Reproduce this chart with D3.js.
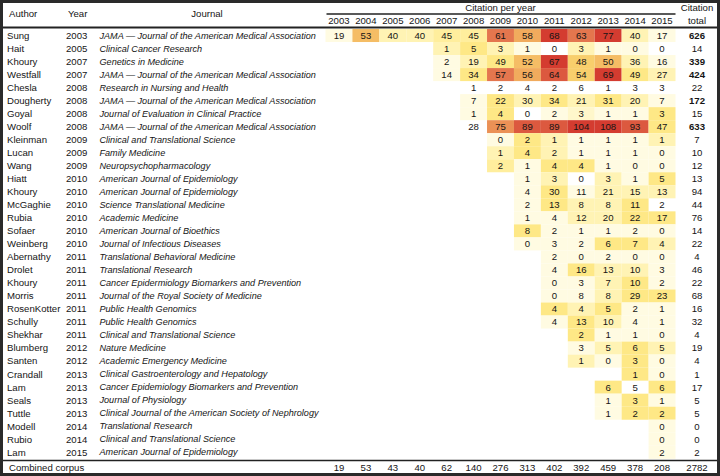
<!DOCTYPE html>
<html><head><meta charset="utf-8">
<script src="https://cdn.jsdelivr.net/npm/d3@7"></script>
<style>
body{margin:0;background:#fff;}
svg{display:block;font-family:"Liberation Sans",Arial,Helvetica,sans-serif;}
</style></head><body>
<svg id="chart" width="720" height="476"></svg>
<script>
const yearLabels = [2003,2004,2005,2006,2007,2008,2009,2010,2011,2012,2013,2014,2015];
const authors = ["Sung","Hait","Khoury","Westfall","Chesla","Dougherty","Goyal","Woolf","Kleinman","Lucan","Wang","Hiatt","Khoury","McGaghie","Rubia","Sofaer","Weinberg","Abernathy","Drolet","Khoury","Morris","RosenKotter","Schully","Shekhar","Blumberg","Santen","Crandall","Lam","Seals","Tuttle","Modell","Rubio","Lam"];
const pubYears = [2003,2005,2007,2007,2008,2008,2008,2008,2009,2009,2009,2010,2010,2010,2010,2010,2010,2011,2011,2011,2011,2011,2011,2011,2012,2012,2013,2013,2013,2013,2014,2014,2015];
const journals = ["JAMA — Journal of the American Medical Association","Clinical Cancer Research","Genetics in Medicine","JAMA — Journal of the American Medical Association","Research in Nursing and Health","JAMA — Journal of the American Medical Association","Journal of Evaluation in Clinical Practice","JAMA — Journal of the American Medical Association","Clinical and Translational Science","Family Medicine","Neuropsychopharmacology","American Journal of Epidemiology","American Journal of Epidemiology","Science Translational Medicine","Academic Medicine","American Journal of Bioethics","Journal of Infectious Diseases","Translational Behavioral Medicine","Translational Research","Cancer Epidermiology Biomarkers and Prevention","Journal of the Royal Society of Medicine","Public Health Genomics","Public Health Genomics","Clinical and Translational Science","Nature Medicine","Academic Emergency Medicine","Clinical Gastroenterology and Hepatology","Cancer Epidemiology Biomarkers and Prevention","Journal of Physiology","Clinical Journal of the American Society of Nephrology","Translational Research","Clinical and Translational Science","American Journal of Epidemiology"];
// first year with a citation count shown
const startYears = [2003,2007,2007,2007,2008,2008,2008,2008,2009,2009,2009,2010,2010,2010,2010,2010,2010,2011,2011,2011,2011,2011,2011,2012,2012,2012,2014,2013,2013,2013,2015,2015,2015];
const citations = [
 [19,53,40,40,45,45,61,58,68,63,77,40,17],
 [1,5,3,1,0,3,1,0,0],
 [2,19,49,52,67,48,50,36,16],
 [14,34,57,56,64,54,69,49,27],
 [1,2,4,2,6,1,3,3],
 [7,22,30,34,21,31,20,7],
 [1,4,0,2,3,1,1,3],
 [28,75,89,89,104,108,93,47],
 [0,2,1,1,1,1,1],
 [1,4,2,1,1,1,0],
 [2,1,4,4,1,0,0],
 [1,3,0,3,1,5],
 [4,30,11,21,15,13],
 [2,13,8,8,11,2],
 [1,4,12,20,22,17],
 [8,2,1,1,2,0],
 [0,3,2,6,7,4],
 [2,0,2,0,0],
 [4,16,13,10,3],
 [0,3,7,10,2],
 [0,8,8,29,23],
 [4,4,5,2,1],
 [4,13,10,4,1],
 [2,1,1,0],
 [3,5,6,5],
 [1,0,3,0],
 [1,0],
 [6,5,6],
 [1,3,1],
 [1,2,2],
 [0],[0],[2]
];
// cell shading level (0 = no fill, 7 = deep red)
const heat = [
 [1,4.5,2,2,2.5,2.5,6,5,7,6,7,2,0.5],
 [2,3,2,1,0,2,1,1,0],
 [1,2,3,4.5,7,4,4.5,2,1],
 [1,3,6,5,6.5,4,7,3,2],
 [0,0,0,0,0,0,0,0],
 [1,3,2,3,2,3,2,1],
 [1,3,0,1,1.5,1,1,3],
 [0,5.5,6.5,6.5,7,7,6.5,3],
 [1,3,2,1,1,1,2],
 [2,3,2,1,1,1,1],
 [2.5,1,3,3,1,1,1],
 [1,2,0,2,1,3],
 [1,3,1,2,2,2],
 [1,3,2,2,3,0],
 [1,1,2,2,3,3],
 [3,1,1,1,1,1],
 [1,1,1,3,3,2],
 [1,1,1,1,1],
 [1,3,2,2,1],
 [1,1,2,3,1],
 [1,1,2,3,3],
 [3,2,3,1,1],
 [1,3,2,1,1],
 [3,1,1,1],
 [1,2,3,2],
 [2,1,3,1],
 [3,1],
 [3,0,3],
 [1,3,1],
 [1,3,3],
 [1],[1],[1]
];
const totals = [626,14,339,424,22,172,15,633,7,10,12,13,94,44,76,14,22,4,46,22,68,16,32,4,19,4,1,17,5,5,0,0,2];
const boldTotals = [626,339,424,172,633];
const corpusTotals = [19,53,43,40,62,140,276,313,402,392,459,378,208];
const corpusTotal = 2782;

const svg = d3.select("#chart");
const fs = 9.6;
const fsJ = 9.1;
const x = d3.scaleBand().domain(yearLabels).range([325.5, 675.5]);
const y = d3.scaleBand().domain(d3.range(authors.length)).range([29, 458.8]);
const color = d3.scaleLinear()
  .domain([1,2,3,4,5,6,7])
  .range(["#fffbe2","#fff3b4","#fee886","#f8cf6c","#f1ab5d","#e4764e","#d43c30"])
  .clamp(true);
const txt = "#151515";

// header
const head = svg.append("g").attr("font-size", fs).attr("fill", txt);
head.append("text").attr("x", 9).attr("y", 14).attr("dy","0.35em").text("Author");
head.append("text").attr("x", 68).attr("y", 14).attr("dy","0.35em").text("Year");
head.append("text").attr("x", 207).attr("y", 14).attr("dy","0.35em").attr("text-anchor","middle").text("Journal");
head.append("text").attr("x", (x.range()[0]+x.range()[1])/2).attr("y", 7.5).attr("dy","0.35em").attr("text-anchor","middle").text("Citation per year");
head.append("text").attr("x", 697).attr("y", 7.5).attr("dy","0.35em").attr("text-anchor","middle").text("Citation");
head.append("text").attr("x", 697).attr("y", 20.5).attr("dy","0.35em").attr("text-anchor","middle").text("total");
svg.append("line").attr("x1", x.range()[0]+1).attr("x2", x.range()[1]).attr("y1", 14).attr("y2", 14).attr("stroke","#222").attr("stroke-width",1.3);
head.selectAll("text.yl").data(yearLabels).join("text").attr("class","yl")
  .attr("x", d => x(d) + x.bandwidth()/2).attr("y", 21).attr("dy","0.35em").attr("text-anchor","middle").text(d => d);

// cells
const rows = svg.append("g");
authors.forEach((a, i) => {
  const cells = citations[i].map((v, k) => ({year: startYears[i] + k, v, h: heat[i][k]}));
  const g = rows.append("g");
  g.selectAll("rect").data(cells.filter(c => c.h > 0)).join("rect")
    .attr("x", c => x(c.year)).attr("width", x.bandwidth())
    .attr("y", y(i)).attr("height", y.bandwidth())
    .attr("fill", c => color(c.h));
  g.selectAll("text").data(cells).join("text")
    .attr("x", c => x(c.year) + x.bandwidth()/2).attr("y", y(i) + y.bandwidth()/2)
    .attr("dy","0.35em").attr("text-anchor","middle").attr("font-size", fs).attr("fill", txt)
    .text(c => c.v);
  const cy = y(i) + y.bandwidth()/2;
  g.append("text").attr("x", 7).attr("y", cy).attr("dy","0.35em").attr("font-size", fs).attr("fill", txt).text(a);
  g.append("text").attr("x", 66).attr("y", cy).attr("dy","0.35em").attr("font-size", fs).attr("fill", txt).text(pubYears[i]);
  g.append("text").attr("x", 99.5).attr("y", cy).attr("dy","0.35em").attr("font-size", fsJ).attr("font-style","italic").attr("fill", txt).text(journals[i]);
  g.append("text").attr("x", 697).attr("y", cy).attr("dy","0.35em").attr("text-anchor","middle").attr("font-size", fs)
    .attr("font-weight", boldTotals.includes(totals[i]) ? "bold" : "normal").attr("fill", txt).text(totals[i]);
});

// combined corpus
const cY = 468;
svg.append("text").attr("x", 9).attr("y", cY).attr("dy","0.35em").attr("font-size", fs).attr("fill", txt).text("Combined corpus");
svg.selectAll("text.ct").data(corpusTotals).join("text").attr("class","ct")
  .attr("x", (d,k) => x(yearLabels[k]) + x.bandwidth()/2).attr("y", cY).attr("dy","0.35em")
  .attr("text-anchor","middle").attr("font-size", fs).attr("fill", txt).text(d => d);
svg.append("text").attr("x", 697).attr("y", cY).attr("dy","0.35em").attr("text-anchor","middle").attr("font-size", fs).attr("fill", txt).text(corpusTotal);

// rules and frame
svg.append("line").attr("x1", 0).attr("x2", 720).attr("y1", 27.5).attr("y2", 27.5).attr("stroke","#222").attr("stroke-width",2);
svg.append("line").attr("x1", 0).attr("x2", 720).attr("y1", 460.5).attr("y2", 460.5).attr("stroke","#222").attr("stroke-width",1.5);
svg.append("rect").attr("x",1.5).attr("y",1.5).attr("width",717).attr("height",473).attr("fill","none").attr("stroke","#2a2a2a").attr("stroke-width",3);
</script>
</body></html>
